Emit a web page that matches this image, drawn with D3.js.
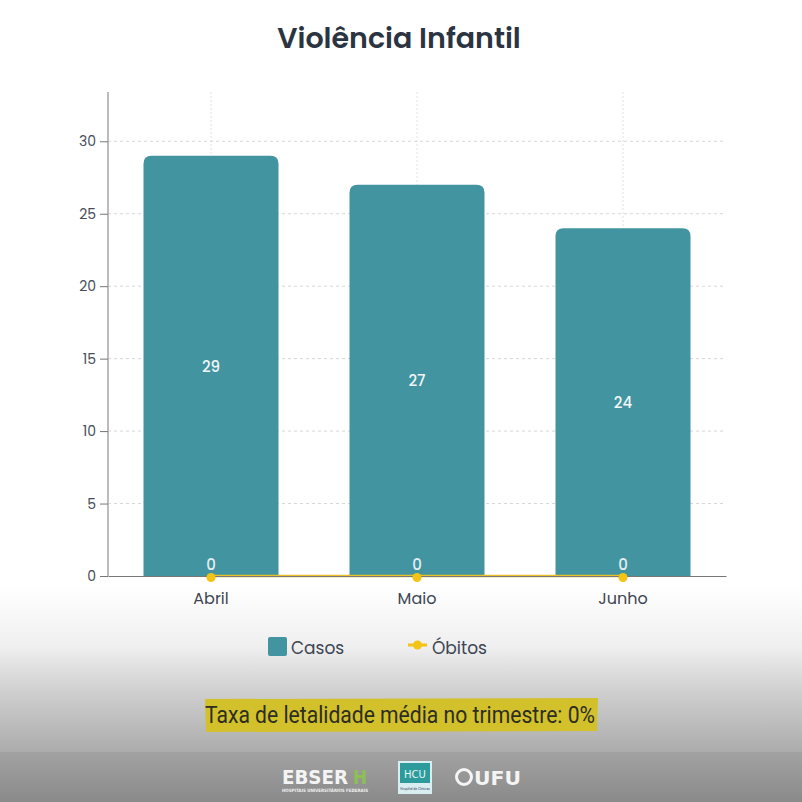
<!DOCTYPE html>
<html>
<head>
<meta charset="utf-8">
<script src="https://cdn.jsdelivr.net/npm/d3@7"></script>
<style>
  html, body { margin: 0; padding: 0; background: #fff; }
  svg { display: block; font-family: "Poppins", "Lato", "Open Sans", sans-serif; }
</style>
</head>
<body>
<div id="chart"></div>
<script>
// data
const months = ["Abril", "Maio", "Junho"];
const casos = [29, 27, 24];
const obitos = [0, 0, 0];
const yTicks = [0, 5, 10, 15, 20, 25, 30];
const title = "Violência Infantil";
const footnote = "Taxa de letalidade média no trimestre: 0%";

const W = 802, H = 802;
const margin = { top: 92, right: 76, bottom: 226, left: 108 };
const width = W - margin.left - margin.right;
const height = H - margin.top - margin.bottom;

const svg = d3.select("#chart").append("svg")
    .attr("width", W)
    .attr("height", H);

// background gradients
const defs = svg.append("defs");
const bg = defs.append("linearGradient").attr("id", "bg").attr("x1", 0).attr("y1", 0).attr("x2", 0).attr("y2", 1);
bg.append("stop").attr("offset", "0%").attr("stop-color", "#ffffff");
bg.append("stop").attr("offset", "78%").attr("stop-color", "#ffffff");
bg.append("stop").attr("offset", "86%").attr("stop-color", "#efefef");
bg.append("stop").attr("offset", "92%").attr("stop-color", "#cfcfcf");
bg.append("stop").attr("offset", "100%").attr("stop-color", "#acacac");
const band = defs.append("linearGradient").attr("id", "band").attr("x1", 0).attr("y1", 0).attr("x2", 0).attr("y2", 1);
band.append("stop").attr("offset", "0%").attr("stop-color", "#a2a2a2");
band.append("stop").attr("offset", "100%").attr("stop-color", "#8a8a8a");

svg.append("rect").attr("width", W).attr("height", 752).attr("fill", "url(#bg)");
svg.append("rect").attr("y", 752).attr("width", W).attr("height", 50).attr("fill", "url(#band)");

// title
svg.append("text")
    .attr("x", 399)
    .attr("y", 48)
    .attr("text-anchor", "middle")
    .attr("font-size", 28.5)
    .attr("font-weight", 600)
    .attr("fill", "#2b3441")
    .text(title);

const g = svg.append("g").attr("transform", `translate(${margin.left},${margin.top})`);

const x = d3.scaleBand()
    .domain(months)
    .range([0, width])
    .paddingInner(0)
    .paddingOuter(0);

const y = d3.scaleLinear()
    .domain([0, 33.4])
    .range([height, 0]);

// grid
g.append("g")
    .selectAll("line")
    .data(yTicks.filter(d => d > 0))
    .enter().append("line")
    .attr("x1", 0).attr("x2", width)
    .attr("y1", d => y(d)).attr("y2", d => y(d))
    .attr("stroke", "#d6d6d6")
    .attr("stroke-dasharray", "3,3");

g.append("g")
    .selectAll("line")
    .data(months)
    .enter().append("line")
    .attr("x1", d => x(d) + x.bandwidth() / 2).attr("x2", d => x(d) + x.bandwidth() / 2)
    .attr("y1", 0).attr("y2", height)
    .attr("stroke", "#e2e2e2")
    .attr("stroke-dasharray", "2,2");

// bars with rounded top
const barW = 135;
const r = 8;
g.selectAll(".bar")
    .data(casos)
    .enter().append("path")
    .attr("class", "bar")
    .attr("fill", "#4194a0")
    .attr("d", (d, i) => {
        const x0 = x(months[i]) + (x.bandwidth() - barW) / 2;
        const x1 = x0 + barW;
        const y0 = y(d), yb = y(0);
        return `M${x0},${yb}V${y0 + r}Q${x0},${y0} ${x0 + r},${y0}H${x1 - r}Q${x1},${y0} ${x1},${y0 + r}V${yb}Z`;
    });

g.selectAll(".barLabel")
    .data(casos)
    .enter().append("text")
    .attr("class", "barLabel")
    .attr("x", (d, i) => x(months[i]) + x.bandwidth() / 2)
    .attr("y", d => (y(d) + y(0)) / 2 + 6)
    .attr("text-anchor", "middle")
    .attr("font-size", 15)
    .attr("font-weight", 500)
    .attr("fill", "#f2f6f7")
    .text(d => d);

// óbitos line (under the axis)
const line = d3.line()
    .x((d, i) => x(months[i]) + x.bandwidth() / 2)
    .y(d => y(d));
g.append("path")
    .datum(obitos)
    .attr("fill", "none")
    .attr("stroke", "#e7c12a")
    .attr("stroke-width", 2.5)
    .attr("d", line);

// y axis
const yAxis = g.append("g")
    .call(d3.axisLeft(y).tickValues(yTicks).tickSize(8).tickPadding(4));
yAxis.select(".domain").attr("stroke", "#bcbcbc").attr("stroke-width", 2).attr("d", `M0,0V${height}`);
yAxis.selectAll(".tick line").attr("stroke", "#777");
yAxis.selectAll(".tick text").attr("font-size", 14).attr("fill", "#454d5a").attr("font-family", "Poppins, Lato, sans-serif");

// x axis
const xAxis = g.append("g")
    .attr("transform", `translate(0,${height})`)
    .call(d3.axisBottom(x).tickSize(0).tickPadding(17));
xAxis.select(".domain").attr("stroke", "#777").attr("stroke-width", 1.2);
xAxis.selectAll(".tick text").attr("font-size", 16).attr("fill", "#3d4553").attr("font-family", "Poppins, Lato, sans-serif");

g.selectAll(".dot")
    .data(obitos)
    .enter().append("circle")
    .attr("cx", (d, i) => x(months[i]) + x.bandwidth() / 2)
    .attr("cy", d => y(d) + 1.5)
    .attr("r", 4.5)
    .attr("fill", "#f3c316");

g.selectAll(".dotLabel")
    .data(obitos)
    .enter().append("text")
    .attr("x", (d, i) => x(months[i]) + x.bandwidth() / 2)
    .attr("y", d => y(d) - 6)
    .attr("text-anchor", "middle")
    .attr("font-size", 15)
    .attr("font-weight", 500)
    .attr("fill", "#e4eef0")
    .text(d => d);

// legend
const legend = svg.append("g");
legend.append("rect")
    .attr("x", 268).attr("y", 637).attr("width", 19).attr("height", 19).attr("rx", 2)
    .attr("fill", "#4194a0");
legend.append("text")
    .attr("x", 291).attr("y", 654)
    .attr("font-size", 17).attr("fill", "#3d4553")
    .text("Casos");
legend.append("line")
    .attr("x1", 408).attr("x2", 427).attr("y1", 645).attr("y2", 645)
    .attr("stroke", "#f3c316").attr("stroke-width", 3);
legend.append("circle")
    .attr("cx", 417.5).attr("cy", 645).attr("r", 4.5)
    .attr("fill", "#f3c316");
legend.append("text")
    .attr("x", 432).attr("y", 654)
    .attr("font-size", 17).attr("fill", "#3d4553")
    .text("Óbitos");

// highlighted note
svg.append("path")
    .attr("d", "M205,699 L598,698 L597,731 L206,732 Z")
    .attr("fill", "#d3c12c");
svg.append("text")
    .attr("x", 205).attr("y", 723)
    .attr("font-family", "Roboto, sans-serif")
    .attr("font-size", 23)
    .attr("fill", "#2d2d22")
    .attr("textLength", 390)
    .attr("lengthAdjust", "spacingAndGlyphs")
    .text(footnote);

// footer logos
const foot = svg.append("g");
foot.append("text")
    .attr("x", 282).attr("y", 784)
    .attr("font-family", "DejaVu Sans, sans-serif")
    .attr("font-weight", 700).attr("font-size", 20)
    .attr("fill", "#f4f4f4")
    .attr("textLength", 66).attr("lengthAdjust", "spacingAndGlyphs")
    .text("EBSER");
foot.append("text")
    .attr("x", 353).attr("y", 784)
    .attr("font-family", "DejaVu Sans, sans-serif")
    .attr("font-weight", 700).attr("font-size", 20)
    .attr("fill", "#8cc152")
    .attr("textLength", 14).attr("lengthAdjust", "spacingAndGlyphs")
    .text("H");
foot.append("text")
    .attr("x", 282).attr("y", 792)
    .attr("font-family", "DejaVu Sans, sans-serif")
    .attr("font-weight", 700).attr("font-size", 4.5)
    .attr("fill", "#f0f0f0")
    .attr("textLength", 86).attr("lengthAdjust", "spacingAndGlyphs")
    .text("HOSPITAIS UNIVERSITÁRIOS FEDERAIS");
foot.append("rect")
    .attr("x", 398).attr("y", 761).attr("width", 34).attr("height", 33)
    .attr("fill", "#d8eef0");
foot.append("rect")
    .attr("x", 400).attr("y", 763).attr("width", 30).attr("height", 20)
    .attr("fill", "#2d9b9b");
foot.append("text")
    .attr("x", 415).attr("y", 778)
    .attr("text-anchor", "middle")
    .attr("font-family", "DejaVu Sans, sans-serif")
    .attr("font-size", 10).attr("fill", "#e8f6f6")
    .text("HCU");
foot.append("text")
    .attr("x", 415).attr("y", 790)
    .attr("text-anchor", "middle")
    .attr("font-size", 3).attr("fill", "#335")
    .text("Hospital de Clínicas");
foot.append("circle")
    .attr("cx", 464).attr("cy", 777).attr("r", 7.5)
    .attr("fill", "none").attr("stroke", "#f4f4f4").attr("stroke-width", 3);
foot.append("text")
    .attr("x", 474).attr("y", 785)
    .attr("font-family", "DejaVu Sans, sans-serif")
    .attr("font-weight", 700).attr("font-size", 20)
    .attr("fill", "#f4f4f4")
    .attr("textLength", 47).attr("lengthAdjust", "spacingAndGlyphs")
    .text("UFU");
</script>
</body>
</html>
